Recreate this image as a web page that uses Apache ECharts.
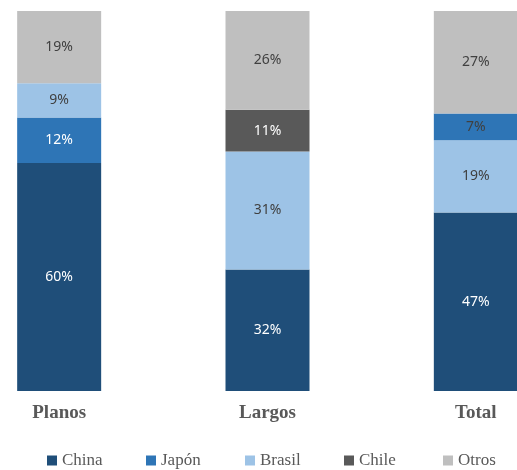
<!DOCTYPE html>
<html>
<head>
<meta charset="utf-8">
<script src="https://cdn.jsdelivr.net/npm/echarts@6/dist/echarts.min.js"></script>
<style>html,body{margin:0;padding:0;background:#fff;}#c{width:517px;height:470px;}</style>
</head>
<body>
<div id="c"></div>
<script>
const categories = ['Planos', 'Largos', 'Total'];
const seriesNames = ['China', 'Japón', 'Brasil', 'Chile', 'Otros'];
const china  = [60, 32, 47];
const japon  = [12, null, 7];
const brasil = [9, 31, 19];
const chile  = [null, 11, null];
const otros  = [19, 26, 27];
// Japón sits above Brasil only in the "Total" column
const japonAboveBrasil = [false, false, true];

const colors = {China:'#1F4E79', 'Japón':'#2E75B6', Brasil:'#9DC3E6', Chile:'#595959', Otros:'#BFBFBF'};
const dark = '#404040', light = '#ffffff';

function mk(name, data, labelColor) {
  return {
    name: name, type: 'bar', stack: 's', barWidth: 84, data: data,
    itemStyle: {color: colors[name]},
    label: {show: true, position: 'inside', formatter: '{c}%', color: labelColor,
            fontFamily: 'Noto Sans', fontSize: 14},
    emphasis: {disabled: true}
  };
}
const japonLow  = japon.map((v, i) => japonAboveBrasil[i] ? null : v);
const japonHigh = japon.map((v, i) => japonAboveBrasil[i] ? v : null);

const series = [
  mk('China', china, light),
  mk('Japón', japonLow, light),
  mk('Brasil', brasil, dark),
  mk('Japón', japonHigh, dark),
  mk('Chile', chile, light),
  mk('Otros', otros, dark)
];

const legends = seriesNames.map((n, i) => ({
  data: [n], left: 47 + 99 * i, top: 452, padding: 0, itemWidth: 10, itemHeight: 10, itemGap: 5,
  icon: 'rect', selectedMode: false,
  textStyle: {fontFamily: 'Liberation Serif', fontSize: 17, color: '#595959'}
}));

const chart = echarts.init(document.getElementById('c'), null, {renderer: 'canvas'});
chart.setOption({
  animation: false,
  backgroundColor: '#fff',
  grid: {left: -45, right: -63, top: 11, bottom: 79, outerBoundsMode: 'none', containLabel: false},
  legend: legends,
  xAxis: {
    type: 'category', data: categories,
    axisLine: {show: false}, axisTick: {show: false},
    axisLabel: {margin: 13, fontFamily: 'Liberation Serif', fontWeight: 'bold', fontSize: 19, color: '#595959'}
  },
  yAxis: {type: 'value', min: 0, max: 100, show: false, splitLine: {show: false}},
  series: series
});
</script>
</body>
</html>
